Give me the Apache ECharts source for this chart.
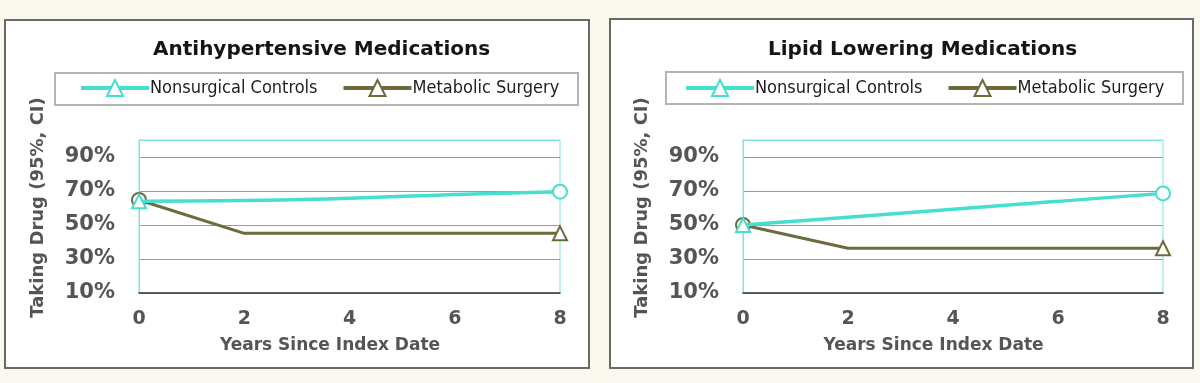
<!DOCTYPE html>
<html>
<head>
<meta charset="utf-8">
<script src="https://cdn.jsdelivr.net/npm/echarts@6/dist/echarts.min.js"></script>
<style>
  html, body { margin: 0; padding: 0; background: #fbf9ef; }
  #chart { width: 1200px; height: 383px; }
</style>
</head>
<body>
<div id="chart"></div>
<script>
// ---- data ----
const years = [0, 2, 4, 6, 8];
const yTicks = [10, 30, 50, 70, 90];
const seriesNames = ['Nonsurgical Controls', 'Metabolic Surgery'];
const panelTitles = ['Antihypertensive Medications', 'Lipid Lowering Medications'];
const xAxisTitle = 'Years Since Index Date';
const yAxisTitle = 'Taking Drug (95%, CI)';
// Antihypertensive
const antiNonsurgical = [63.9, 64.4, 65.7, 68.0, 69.6];
const antiSurgery     = [64.7, 45.1, 45.1, 45.1, 45.1];
// Lipid lowering
const lipidNonsurgical = [50.0, 54.6, 59.3, 63.9, 68.6];
const lipidSurgery     = [50.0, 36.3, 36.3, 36.3, 36.3];

// ---- styles ----
const CYAN = '#45ded0';
const OLIVE = '#6d6a3b';
const FONT = 'DejaVu Sans';
const COND = "'DejaVu Sans Condensed', 'DejaVu Sans'";
const LABEL = '#555555';

function points(xs, ys, firstSym, lastSym) {
  return xs.map((x, i) => {
    let sym = 'none';
    if (i === 0) sym = firstSym;
    if (i === xs.length - 1) sym = lastSym;
    return { value: [x, ys[i]], symbol: sym };
  });
}

const grids = [
  { left: 139, width: 421, top: 140, height: 153 },
  { left: 743, width: 420, top: 140, height: 153 }
];

function xAxisFor(gi) {
  return {
    type: 'value', gridIndex: gi, min: years[0], max: years[years.length - 1], interval: 2,
    axisLine: { show: true, lineStyle: { color: '#3a3a3a', width: 1.5 } },
    axisTick: { show: false },
    splitLine: { show: false },
    axisLabel: { color: LABEL, fontFamily: FONT, fontWeight: 'bold', fontSize: 19, margin: 17 },
    name: xAxisTitle, nameLocation: 'middle', nameGap: 44,
    nameTextStyle: { color: LABEL, fontFamily: FONT, fontWeight: 'bold', fontSize: 17, padding: [0, 39, 0, 0] }
  };
}
function yAxisFor(gi) {
  return {
    type: 'value', gridIndex: gi, min: yTicks[0], max: 100, interval: yTicks[1] - yTicks[0],
    axisLine: { show: true, lineStyle: { color: '#7fe4dc', width: 1 } },
    axisTick: { show: false },
    splitLine: { show: true, lineStyle: { color: ['#9a9a9a', '#9a9a9a', '#9a9a9a', '#9a9a9a', '#9a9a9a', '#7fe4dc'], width: 1 } },
    axisLabel: {
      color: LABEL, fontFamily: FONT, fontWeight: 'bold', fontSize: 21, margin: 24, showMaxLabel: false,
      formatter: v => (yTicks.indexOf(v) >= 0 ? v + '%' : '')
    },
    name: yAxisTitle, nameLocation: 'middle', nameRotate: 90, nameGap: 92,
    nameTextStyle: { color: LABEL, fontFamily: FONT, fontWeight: 'bold', fontSize: 18, padding: [0, 0, 0, 18] }
  };
}

function seriesFor(gi, nonsurg, surg) {
  return [
    {
      name: seriesNames[1], type: 'line', xAxisIndex: gi, yAxisIndex: gi,
      symbol: 'emptyTriangle', symbolSize: 14, smooth: false,
      lineStyle: { color: OLIVE, width: 3 },
      itemStyle: { color: OLIVE, borderColor: OLIVE, borderWidth: 2.5 },
      data: points(years, surg, 'emptyCircle', 'emptyTriangle'),
      z: 3
    },
    {
      name: seriesNames[0], type: 'line', xAxisIndex: gi, yAxisIndex: gi,
      symbol: 'emptyTriangle', symbolSize: 14, smooth: true,
      lineStyle: { color: CYAN, width: 3.5 },
      itemStyle: { color: CYAN, borderColor: CYAN, borderWidth: 3 },
      data: points(years, nonsurg, 'emptyTriangle', 'emptyCircle'),
      z: 4
    }
  ];
}

function legendFor(left) {
  return {
    left: left, top: 79, padding: 0, itemWidth: 68, itemHeight: 20, itemGap: 24,
    data: seriesNames,
    lineStyle: { width: 4 },
    textStyle: { color: '#1e1e1e', fontFamily: COND, fontSize: 18, padding: [0, 0, 0, -4] }
  };
}

const option = {
  backgroundColor: '#fbf9ef',
  animation: false,
  graphic: [
    { type: 'rect', z: -10, shape: { x: 5, y: 20, width: 584, height: 348 }, style: { fill: '#ffffff', stroke: '#6a6a62', lineWidth: 2 } },
    { type: 'rect', z: -10, shape: { x: 610, y: 19, width: 583, height: 349 }, style: { fill: '#ffffff', stroke: '#6a6a62', lineWidth: 2 } },
    { type: 'rect', z: -5, shape: { x: 55, y: 73, width: 523, height: 32 }, style: { fill: 'none', stroke: '#b4b4b4', lineWidth: 2 } },
    { type: 'rect', z: -5, shape: { x: 666, y: 72, width: 517, height: 32 }, style: { fill: 'none', stroke: '#b4b4b4', lineWidth: 2 } }
  ],
  title: [
    { text: panelTitles[0], left: 153, top: 40, padding: 0,
      textStyle: { color: '#151515', fontFamily: FONT, fontWeight: 'bold', fontSize: 20 } },
    { text: panelTitles[1], left: 768, top: 40, padding: 0,
      textStyle: { color: '#151515', fontFamily: FONT, fontWeight: 'bold', fontSize: 20 } }
  ],
  legend: [legendFor(79), legendFor(684)],
  grid: grids.map(g => Object.assign({ show: true, backgroundColor: '#ffffff', borderColor: '#7fe4dc', borderWidth: 1 }, g)),
  xAxis: [xAxisFor(0), xAxisFor(1)],
  yAxis: [yAxisFor(0), yAxisFor(1)],
  series: [].concat(seriesFor(0, antiNonsurgical, antiSurgery), seriesFor(1, lipidNonsurgical, lipidSurgery))
};

const chart = echarts.init(document.getElementById('chart'), null, { renderer: 'canvas' });
chart.setOption(option);
</script>
</body>
</html>
